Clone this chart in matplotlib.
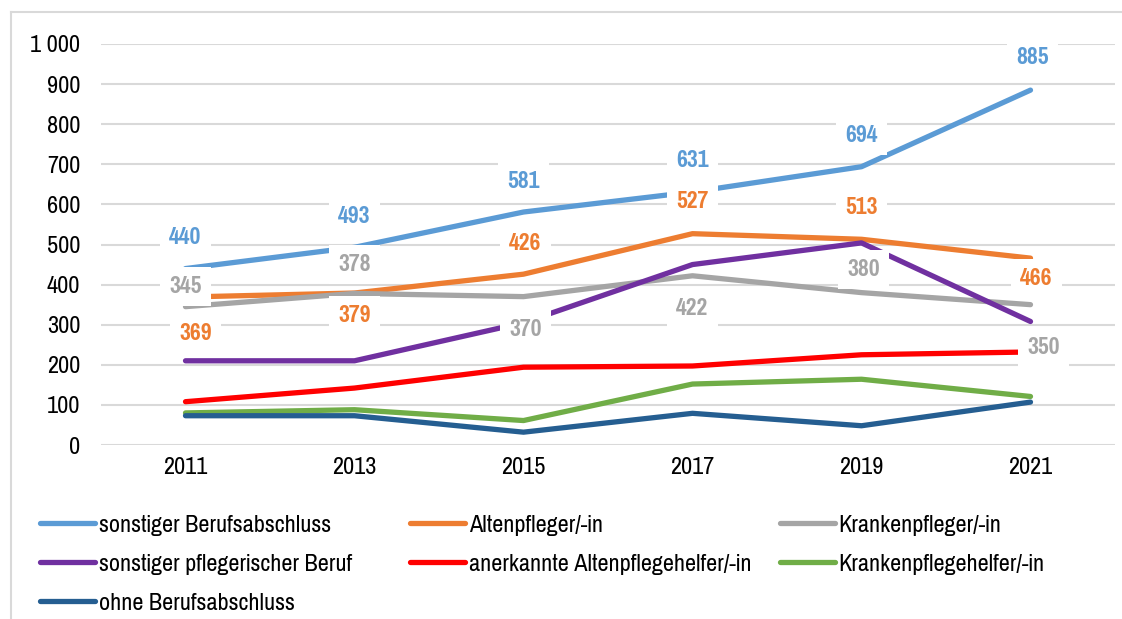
import matplotlib
matplotlib.use("Agg")
import matplotlib.pyplot as plt
from matplotlib import font_manager
from matplotlib.ticker import FuncFormatter, MultipleLocator
from matplotlib.lines import Line2D

# ---- data ----
years = ["2011", "2013", "2015", "2017", "2019", "2021"]
sonstiger_berufsabschluss = [440, 493, 581, 631, 694, 885]
altenpfleger = [369, 379, 426, 527, 513, 466]
krankenpfleger = [345, 378, 370, 422, 380, 350]
sonstiger_pflegerischer_beruf = [210, 210, 305, 450, 504, 308]
anerkannte_altenpflegehelfer = [108, 142, 194, 197, 225, 232]
krankenpflegehelfer = [80, 88, 61, 152, 164, 121]
ohne_berufsabschluss = [73, 73, 32, 79, 48, 107]

series_names = [
    "sonstiger Berufsabschluss",
    "Altenpfleger/-in",
    "Krankenpfleger/-in",
    "sonstiger pflegerischer Beruf",
    "anerkannte Altenpflegehelfer/-in",
    "Krankenpflegehelfer/-in",
    "ohne Berufsabschluss",
]
series_values = [
    sonstiger_berufsabschluss,
    altenpfleger,
    krankenpfleger,
    sonstiger_pflegerischer_beruf,
    anerkannte_altenpflegehelfer,
    krankenpflegehelfer,
    ohne_berufsabschluss,
]
colors = ["#5B9BD5", "#ED7D31", "#A5A5A5", "#7030A0", "#FF0000", "#70AD47", "#255E91"]

# label offsets in pixels (style only) for the three labelled series
label_offsets = {
    0: [(0, 31), (0, 31), (0, 31), (0, 31), (0, 31), (2, 33)],
    1: [(10, -36), (0, -22), (2, 31), (0, 32), (0, 32), (6, -20)],
    2: [(0, 20), (0, 29), (2, -33), (0, -33), (2, 23), (13, -43)],
}

# ---- fonts ----
avail = {f.name for f in font_manager.fontManager.ttflist}
fam = "Liberation Sans"
for cand in ["Liberation Sans Narrow", "Arial Narrow", "Pragati Narrow", "Archivo Narrow",
             "Roboto Condensed", "PT Sans Narrow", "Open Sans Condensed"]:
    if cand in avail:
        fam = cand
        break
plt.rcParams["font.family"] = [fam, "Liberation Sans", "DejaVu Sans"]
FS = 19
FS_LABEL = 18.5

fig = plt.figure(figsize=(11.22, 6.19), dpi=100)
ax = fig.add_axes([101 / 1122, 174 / 619, 1014 / 1122, 401 / 619])

x = list(range(len(years)))
for i, (name, vals, c) in enumerate(zip(series_names, series_values, colors)):
    ax.plot(x, vals, color=c, lw=3.8, solid_capstyle="round", solid_joinstyle="round",
            label=name, zorder=3 + i)

for si, offs in label_offsets.items():
    for xi, v in enumerate(series_values[si]):
        ax.annotate(str(v), (xi, v), xytext=offs[xi], textcoords="offset pixels",
                    ha="center", va="center", fontsize=FS_LABEL, fontweight="bold",
                    color=colors[si], zorder=20,
                    bbox=dict(boxstyle="square,pad=0.35", fc="white", ec="none"))

ax.set_xlim(-0.5, len(years) - 0.5)
ax.set_ylim(0, 1000)
ax.set_xticks(x)
ax.set_xticklabels(years)
ax.yaxis.set_major_locator(MultipleLocator(100))
ax.yaxis.set_major_formatter(FuncFormatter(lambda v, p: f"{int(v):,}".replace(",", " ")))
ax.tick_params(axis="both", length=0, labelsize=FS, colors="black")
ax.tick_params(axis="y", pad=15)
ax.tick_params(axis="x", pad=9)
ax.grid(axis="y", color="#D9D9D9", lw=1.5, zorder=0)
ax.set_axisbelow(True)
for s in ax.spines.values():
    s.set_visible(False)

# figure border (left and top visible)
fig.add_artist(Line2D([11 / 1122, 11 / 1122], [0, 1 - 12 / 619], transform=fig.transFigure,
                      color="#D9D9D9", lw=1.5))
fig.add_artist(Line2D([11 / 1122, 1], [1 - 12 / 619, 1 - 12 / 619], transform=fig.transFigure,
                      color="#D9D9D9", lw=1.5))

# legend in three columns
handles = ax.get_lines()
cols = [[0, 3, 6], [1, 4], [2, 5]]
col_x = [40, 410, 780]
for cx, idxs in zip(col_x, cols):
    leg = fig.legend([handles[i] for i in idxs], [series_names[i] for i in idxs],
                     loc="upper left", bbox_to_anchor=(cx / 1122, 1 - 514 / 619),
                     frameon=False, fontsize=FS, borderpad=0, borderaxespad=0,
                     handlelength=2.1, handletextpad=0.12, labelspacing=0.62)

fig.savefig("out.png", dpi=100)
